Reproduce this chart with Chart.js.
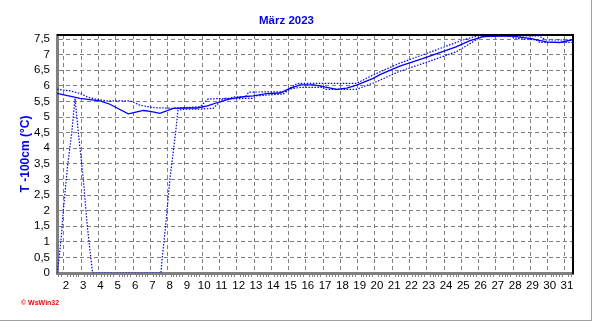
<!DOCTYPE html>
<html lang="de">
<head>
<meta charset="UTF-8">
<title>T -100cm März 2023</title>
<script src="https://cdn.jsdelivr.net/npm/chart.js/dist/chart.umd.min.js"></script>
<style>
    body { margin: 0; background: white; }
    .wrap {
        position: relative;
        width: 591px;
        height: 320px;
        border-right: 1px solid #a0a0a0;
        border-bottom: 1px solid #a0a0a0;
        background: white;
    }
    .copy {
        position: absolute;
        left: 21px;
        top: 299px;
        font: bold 7px "Liberation Sans", Arial, sans-serif;
        color: #ff0000;
    }
</style>
</head>
<body>
<div class="wrap">
    <canvas id="myChart" width="591" height="320"></canvas>
    <div class="copy">© WsWin32</div>
</div>

<script>
// ticks
const xTicks = [2,3,4,5,6,7,8,9,10,11,12,13,14,15,16,17,18,19,20,21,22,23,24,25,26,27,28,29,30,31];
const yTicks = [0,0.5,1,1.5,2,2.5,3,3.5,4,4.5,5,5.5,6,6.5,7,7.5];
const yTickLabels = ['0','0,5','1','1,5','2','2,5','3','3,5','4','4,5','5','5,5','6','6,5','7','7,5'];

// soil temperature -100cm (day of month, °C)
const tempDays  = [1.6, 2.93, 4.08, 4.66, 5.72, 6.1, 6.59, 7.0, 7.55, 8.33, 9.0, 9.7, 10.3, 11.03, 11.6, 12.38, 12.95, 13.73, 14.5, 15.08, 15.66, 16.43, 16.8, 17.78, 18.36, 18.94, 19.9, 20.29, 21.44, 22.8, 24.7, 25.5, 26.27, 27.8, 28.97, 29.93, 30.7, 31.37, 31.5];
const tempVals  = [5.76, 5.60, 5.52, 5.41, 5.10, 5.15, 5.21, 5.18, 5.12, 5.28, 5.29, 5.29, 5.36, 5.49, 5.58, 5.65, 5.68, 5.75, 5.77, 5.92, 6.03, 6.03, 6.00, 5.89, 5.93, 6.02, 6.24, 6.36, 6.63, 6.88, 7.25, 7.45, 7.58, 7.60, 7.52, 7.41, 7.39, 7.47, 7.47];

// maximum
const maxDays = [1.6, 2.35, 3.02, 3.4, 4.08, 4.47, 5.82, 6.4, 7.15, 8.3, 9.87, 10.35, 11.6, 11.8, 12.5, 12.7, 14.8, 15.5, 18.94, 19.9, 21.44, 22.8, 25.1, 25.9, 29.5, 29.9, 31.5];
const maxVals = [5.89, 5.84, 5.74, 5.63, 5.55, 5.52, 5.52, 5.38, 5.30, 5.28, 5.33, 5.58, 5.60, 5.65, 5.65, 5.80, 5.81, 6.08, 6.08, 6.35, 6.73, 7.00, 7.47, 7.60, 7.60, 7.47, 7.47];

// minimum
const minDays = [1.6, 1.7, 1.85, 1.96, 2.2, 2.45, 2.64, 2.83, 3.12, 3.35, 3.55, 3.66, 7.61, 7.69, 7.88, 8.13, 8.46, 8.6, 9.0, 9.87, 10.64, 11.2, 12.9, 13.15, 14.7, 15.08, 15.66, 17.0, 17.1, 18.94, 20.08, 21.44, 22.8, 24.7, 26.07, 26.46, 27.8, 28.19, 29.35, 29.55, 31.5];
const minVals = [0, 0.4, 1.2, 2.0, 3.4, 4.5, 5.6, 4.5, 3.0, 1.5, 0.5, 0, 0, 0.5, 1.5, 3.0, 4.5, 5.22, 5.25, 5.25, 5.28, 5.58, 5.60, 5.68, 5.74, 5.90, 5.95, 5.95, 5.89, 5.89, 6.13, 6.47, 6.72, 7.09, 7.54, 7.60, 7.60, 7.52, 7.47, 7.39, 7.39];

const pts = (xs, ys) => xs.map((x, i) => ({x: x, y: ys[i]}));

// black frame top/right + small 4h ticks under the x axis
const framePlugin = {
    id: 'frame',
    afterDraw(chart) {
        const {ctx, chartArea: a, scales} = chart;
        ctx.save();
        ctx.strokeStyle = '#808080';
        ctx.lineWidth = 1;
        const x = scales.x;
        for (let d = Math.floor(x.min); d <= x.max; d += 1) {
            for (let k = 1; k < 6; k++) {
                const v = d + k / 6;
                if (v < x.min || v > x.max) continue;
                const px = Math.round(x.getPixelForValue(v)) + 0.5;
                ctx.beginPath();
                ctx.moveTo(px, a.bottom + 1);
                ctx.lineTo(px, a.bottom + 4);
                ctx.stroke();
            }
        }
        ctx.strokeStyle = '#000';
        ctx.lineWidth = 2;
        ctx.beginPath();
        ctx.moveTo(a.left, a.top);
        ctx.lineTo(a.right, a.top);
        ctx.lineTo(a.right, a.bottom + 1);
        ctx.stroke();
        ctx.restore();
    }
};

const tickFont = { family: '"Liberation Sans", Arial, sans-serif', size: 11.5 };

new Chart(document.getElementById('myChart'), {
    type: 'line',
    data: {
        datasets: [{
            label: 'T -100cm',
            data: pts(tempDays, tempVals),
            borderColor: '#0000ff',
            borderWidth: 1.3,
            pointRadius: 0,
            tension: 0
        }, {
            label: 'Max',
            data: pts(maxDays, maxVals),
            borderColor: '#0000ff',
            borderWidth: 1.2,
            borderDash: [1.5, 1.5],
            pointRadius: 0,
            tension: 0
        }, {
            label: 'Min',
            data: pts(minDays, minVals),
            borderColor: '#0000ff',
            borderWidth: 1.2,
            borderDash: [1.5, 1.5],
            pointRadius: 0,
            tension: 0
        }]
    },
    options: {
        responsive: false,
        animation: false,
        layout: { padding: { left: 0, right: 18, top: 0, bottom: 0 } },
        plugins: {
            legend: { display: false },
            tooltip: { enabled: false },
            title: {
                display: true,
                text: 'März 2023',
                color: '#0000ff',
                font: { family: '"Liberation Sans", Arial, sans-serif', size: 11.5, weight: 'bold' },
                padding: { top: 14, bottom: 7.2 }
            }
        },
        scales: {
            x: {
                type: 'linear',
                min: 1.595,
                max: 31.465,
                afterBuildTicks: (s) => { s.ticks = xTicks.map(v => ({value: v})); },
                afterFit: (s) => { s.height = 47; },
                ticks: {
                    color: '#000',
                    font: tickFont,
                    padding: 6,
                    labelOffset: 2,
                    maxRotation: 0,
                    autoSkip: false
                },
                grid: { color: '#808080', lineWidth: 1, drawTicks: false },
                border: { color: '#808080', width: 3, dash: [4, 3] }
            },
            y: {
                min: 0,
                max: 7.63,
                afterBuildTicks: (s) => { s.ticks = yTicks.map(v => ({value: v})); },
                afterFit: (s) => { s.width = 57; },
                ticks: {
                    color: '#000',
                    font: tickFont,
                    padding: 7,
                    autoSkip: false,
                    callback: (v) => yTickLabels[yTicks.indexOf(v)]
                },
                grid: { color: '#808080', lineWidth: 1, drawTicks: false },
                border: { color: '#808080', width: 3, dash: [4, 3] },
                title: {
                    display: true,
                    text: 'T -100cm (°C)',
                    color: '#0000ff',
                    font: { family: '"Liberation Sans", Arial, sans-serif', size: 12, weight: 'bold' },
                    padding: { top: 18, bottom: 0 }
                }
            }
        }
    },
    plugins: [framePlugin]
});
</script>
</body>
</html>
